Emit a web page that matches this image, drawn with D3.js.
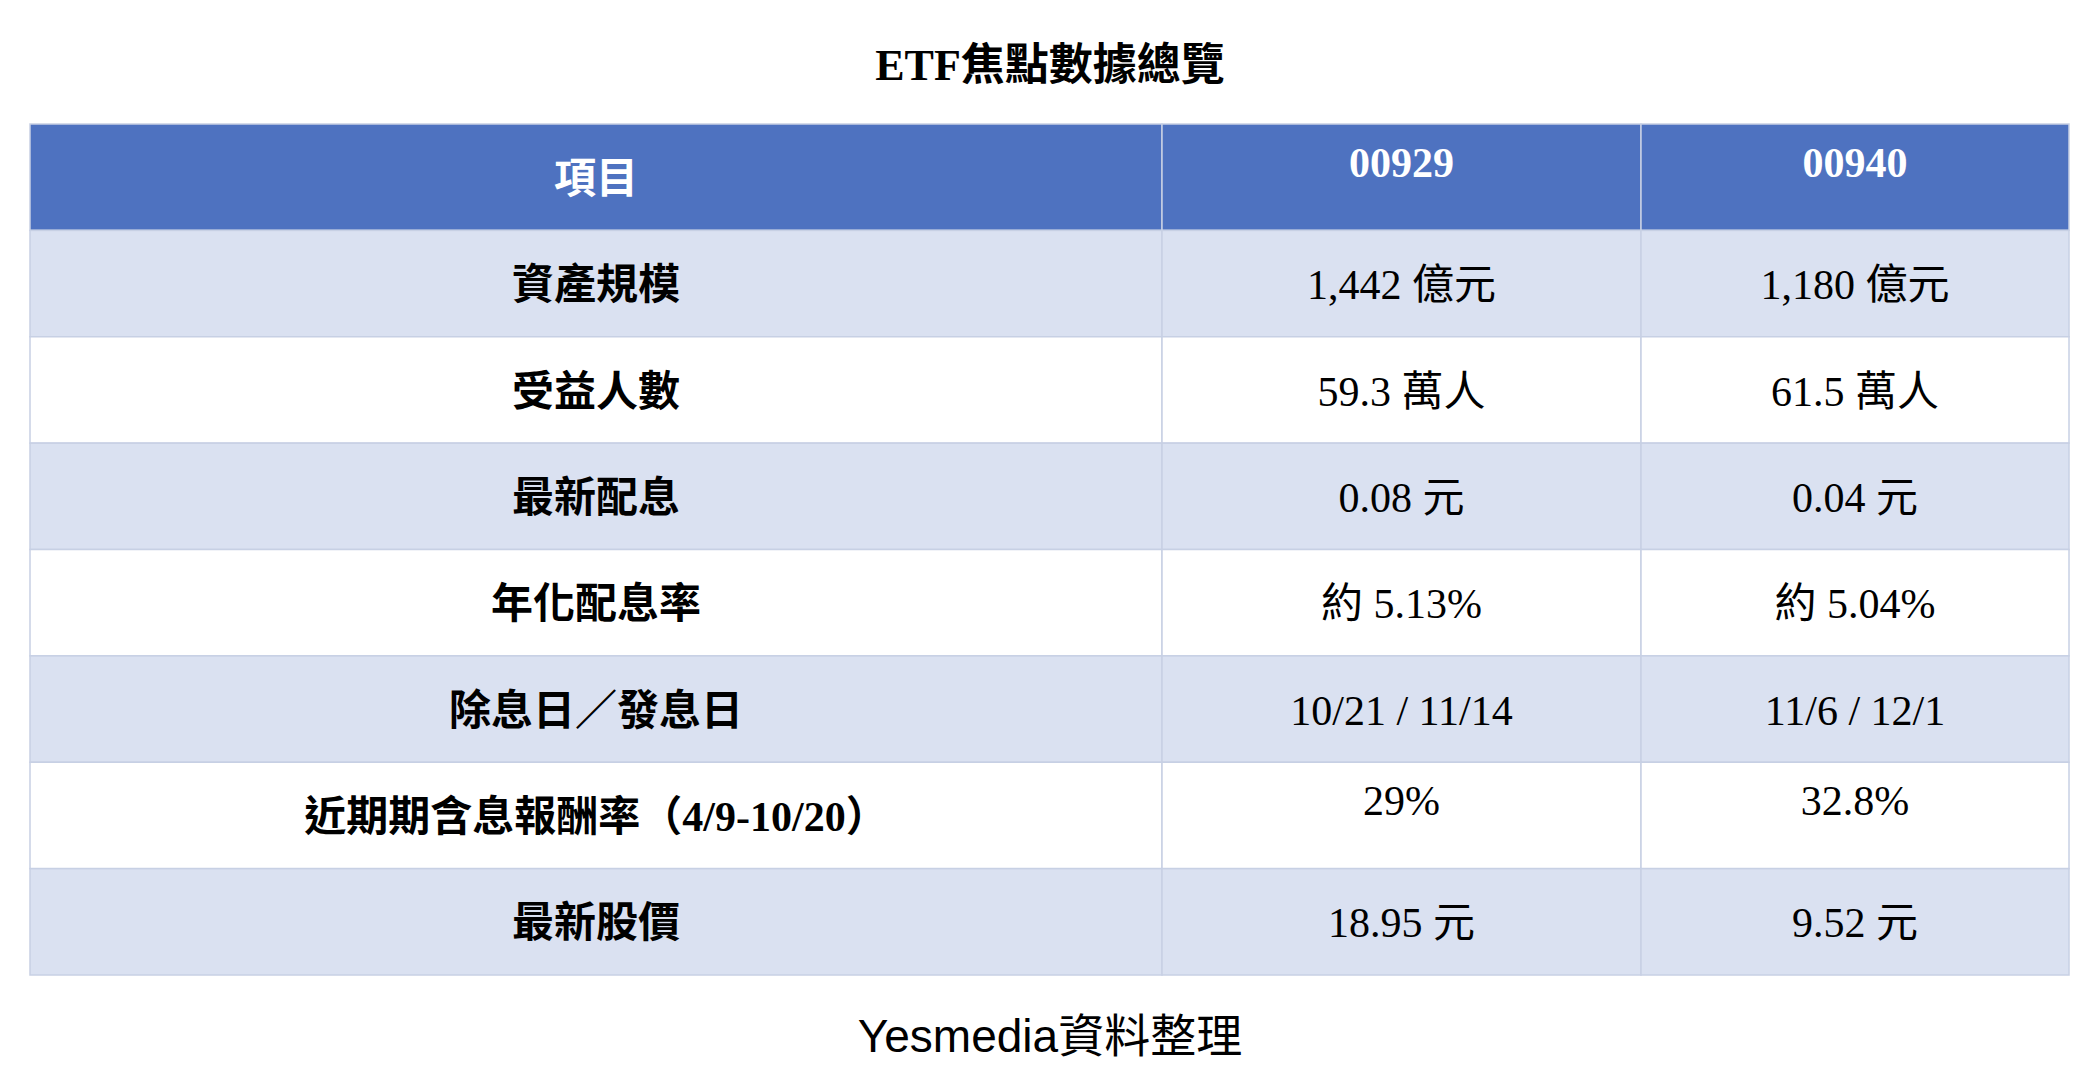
<!DOCTYPE html><html><head><meta charset="utf-8"><script src="https://cdn.jsdelivr.net/npm/d3@7"></script>
<style>body{margin:0;background:#fff}</style></head><body><svg id="c" width="2100" height="1086"></svg>
<script>
const title="ETF焦點數據總覽";
const headers=["項目","00929","00940"];
const items=["資產規模","受益人數","最新配息","年化配息率","除息日／發息日","近期期含息報酬率（4/9-10/20）","最新股價"];
const col00929=["1,442 億元","59.3 萬人","0.08 元","約 5.13%","10/21 / 11/14","29%","18.95 元"];
const col00940=["1,180 億元","61.5 萬人","0.04 元","約 5.04%","11/6 / 12/1","32.8%","9.52 元"];
const source="Yesmedia資料整理";
const svg=d3.select("#c");
const font="'Liberation Serif','Noto Sans CJK TC',serif";
const colEdges=[30,1162,1641,2069];
const y=d3.scaleBand().domain(d3.range(items.length+1)).range([124,975]);
svg.append("text").attr("x",1050).attr("y",80).attr("text-anchor","middle").attr("font-family",font).attr("font-weight","bold").attr("font-size",44).text(title);
const rows=[headers].concat(items.map((d,i)=>[d,col00929[i],col00940[i]]));
rows.forEach((r,i)=>{
  const fill=i===0?"#4e72c0":(i%2===1?"#dae1f1":"#ffffff");
  r.forEach((t,j)=>{
    const x0=colEdges[j],x1=colEdges[j+1];
    svg.append("rect").attr("x",x0).attr("y",y(i)).attr("width",x1-x0).attr("height",y.bandwidth()).attr("fill",fill).attr("stroke","#c7d0e4").attr("stroke-width",1.5);
    const off=(i===0&&j>0)||(i===6&&j>0)?-10:6;
    svg.append("text").attr("x",(x0+x1)/2).attr("y",y(i)+y.bandwidth()/2+off).attr("dominant-baseline","middle").attr("text-anchor","middle")
      .attr("font-family",font).attr("font-size",42).attr("font-weight",(i===0||j===0)?"bold":"normal")
      .attr("fill",i===0?"#fff":"#000").text(t);
  });
});
svg.append("text").attr("x",1050).attr("y",1052).attr("text-anchor","middle").attr("font-family","'Liberation Sans','Noto Sans CJK TC',sans-serif").attr("font-size",46).text(source);
</script></body></html>
